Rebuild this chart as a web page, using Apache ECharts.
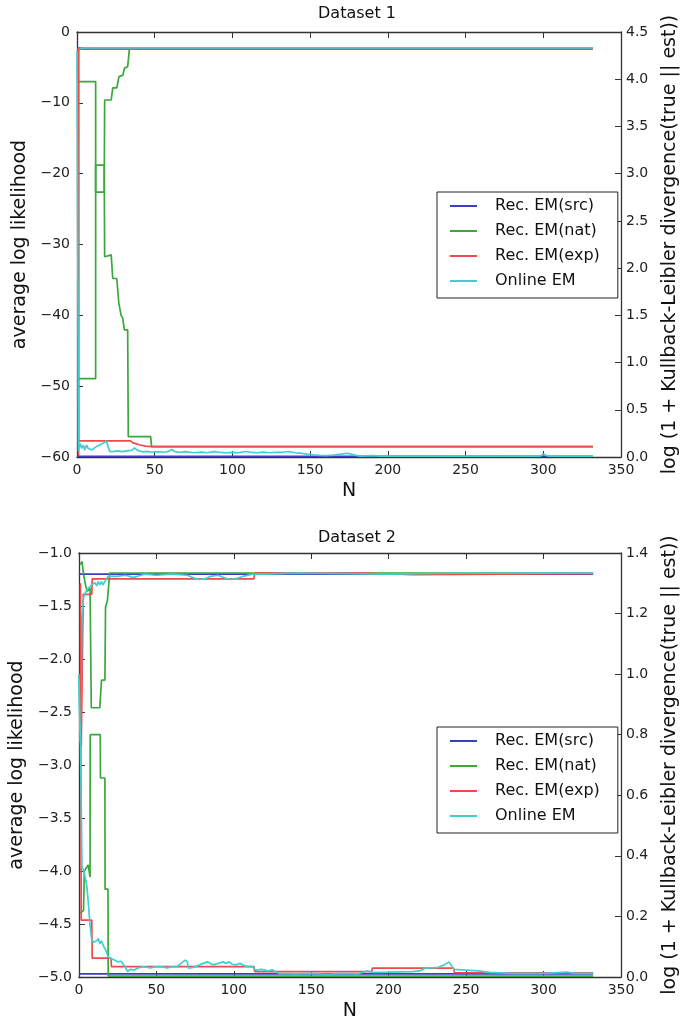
<!DOCTYPE html>
<html>
<head>
<meta charset="utf-8">
<script src="https://cdn.jsdelivr.net/npm/echarts@6/dist/echarts.min.js"></script>
<style>
html,body{margin:0;padding:0;background:#fff;}
#chart{width:688px;height:1026px;}
</style>
</head>
<body>
<div id="chart"></div>
<script>
// ---------- data ----------
const methods = ['Rec. EM(src)', 'Rec. EM(nat)', 'Rec. EM(exp)', 'Online EM'];
const titles = ['Dataset 1', 'Dataset 2'];

// Dataset 1 : average log likelihood (left axis), [N, value]
const d1SrcLL = [[0, -2.25], [332, -2.25]];
const d1NatLL = [[1, -7.0], [12, -7.0], [12, -22.6], [17.5, -22.6], [17.8, -9.6], [22, -9.6], [23, -7.9], [25.6, -7.9], [26.2, -7.2], [27, -6.3], [29.5, -6.1], [30.5, -5.1], [32.6, -4.9], [33.7, -2.42], [48, -2.42], [332, -2.42]];
const d1ExpLL = [[1, -60], [1, -2.42], [332, -2.42]];
const d1OnlLL = [[0, -5.3], [1, -2.3], [5, -2.25], [332, -2.25]];
// Dataset 1 : log(1 + KL) (right axis)
const d1SrcKL = [[0, 0.008], [332, 0.008]];
const d1NatKL = [[1, 0.83], [12, 0.83], [12, 3.09], [17.5, 3.09], [17.8, 2.12], [22, 2.14], [23, 1.89], [25.6, 1.89], [26.9, 1.63], [28.4, 1.50], [29.4, 1.47], [30.5, 1.345], [32.6, 1.345], [33, 0.215], [47.4, 0.215], [48, 0.11], [332, 0.11]];
const d1ExpKL = [[1, 4.33], [1, 0.17], [34.5, 0.17], [36, 0.15], [40, 0.13], [44, 0.115], [48, 0.11], [332, 0.11]];
const d1OnlKL = [[0, 4.3], [1, 0.06], [1.9, 0.145], [3, 0.092], [4, 0.127], [5, 0.074], [6.1, 0.127], [7.2, 0.092], [8.3, 0.11], [9.4, 0.074], [10.4, 0.092], [12.5, 0.11], [14.6, 0.127], [16.7, 0.145], [18.9, 0.17], [20, 0.11], [21, 0.06], [23, 0.056], [26, 0.065], [29, 0.056], [32, 0.065], [35, 0.07], [37, 0.095], [39, 0.07], [42, 0.055], [45, 0.06], [48, 0.05], [52, 0.056], [56, 0.05], [59, 0.06], [61, 0.08], [63, 0.056], [66, 0.05], [70, 0.056], [75, 0.045], [80, 0.052], [84, 0.045], [88, 0.056], [92, 0.05], [96, 0.045], [100, 0.05], [104, 0.045], [108, 0.058], [112, 0.05], [116, 0.045], [120, 0.052], [124, 0.045], [128, 0.05], [132, 0.05], [136, 0.058], [140, 0.045], [144, 0.04], [148, 0.03], [152, 0.022], [156, 0.018], [160, 0.015], [165, 0.02], [170, 0.03], [174, 0.04], [178, 0.022], [182, 0.01], [190, 0.015], [195, 0.01], [220, 0.012], [250, 0.01], [280, 0.012], [298, 0.01], [300, 0.028], [303, 0.01], [332, 0.01]];

// Dataset 2 : average log likelihood (left axis)
const d2SrcLL = [[0, -1.2], [332, -1.2]];
const d2NatLL = [[0.8, -1.11], [2, -1.08], [3, -1.2], [4.5, -1.32], [5.5, -1.36], [7.2, -1.33], [8, -2.46], [13.5, -2.46], [14.6, -2.2], [16.8, -2.2], [17.2, -1.51], [18.4, -1.45], [19.9, -1.19], [332, -1.19]];
const d2ExpLL = [[1, -2.3], [1.5, -2.83], [2.5, -2.83], [2.8, -1.39], [8.3, -1.39], [8.6, -1.245], [113, -1.245], [113.5, -1.19], [184, -1.19], [184.5, -1.205], [216, -1.205], [216.5, -1.195], [332, -1.195]];
const d2OnlLL = [[0, -2.2], [1, -2.79], [2, -1.6], [3, -1.42], [4, -1.38], [5.5, -1.34], [7, -1.32], [8.3, -1.3], [9.5, -1.29], [10.4, -1.28], [11.5, -1.31], [12.5, -1.27], [13.5, -1.3], [14.6, -1.27], [15.6, -1.3], [16.7, -1.27], [17.7, -1.26], [18.8, -1.22], [20, -1.21], [25, -1.22], [30, -1.21], [35, -1.23], [38, -1.22], [42, -1.2], [50, -1.21], [60, -1.2], [70, -1.21], [75, -1.24], [78, -1.25], [82, -1.24], [85, -1.22], [90, -1.21], [95, -1.24], [98, -1.25], [102, -1.24], [106, -1.22], [112, -1.2], [120, -1.2], [140, -1.19], [200, -1.2], [240, -1.19], [332, -1.19]];
// Dataset 2 : log(1 + KL) (right axis)
const d2SrcKL = [[0, 0.01], [332, 0.01]];
const d2NatKL = [[0.8, 0.21], [3, 0.22], [3.5, 0.35], [6, 0.37], [7.2, 0.33], [7.3, 0.80], [13.8, 0.80], [13.9, 0.657], [16.8, 0.657], [16.9, 0.29], [18.8, 0.29], [18.9, 0.003], [332, 0.003]];
const d2ExpKL = [[1, 1.3], [1.5, 0.188], [8.3, 0.188], [8.6, 0.062], [20.8, 0.062], [21, 0.034], [113, 0.034], [113.5, 0.018], [189, 0.018], [189.5, 0.029], [242, 0.029], [242.5, 0.014], [332, 0.014]];
const d2OnlKL = [[0, 1.0], [1, 0.77], [2, 0.36], [3, 0.353], [4, 0.33], [5.1, 0.30], [6, 0.25], [7.2, 0.172], [8.3, 0.122], [9.5, 0.115], [10.4, 0.111], [11.5, 0.12], [12.5, 0.127], [13.5, 0.11], [14.6, 0.12], [15.6, 0.105], [16.7, 0.1], [17.7, 0.085], [18.8, 0.067], [21, 0.06], [23.1, 0.056], [25, 0.05], [27.3, 0.052], [29, 0.04], [31.6, 0.0175], [33, 0.025], [35.8, 0.023], [38, 0.03], [42.1, 0.034], [46, 0.03], [50, 0.034], [52.7, 0.034], [57, 0.03], [60, 0.034], [63.3, 0.034], [66, 0.045], [68.6, 0.056], [70, 0.05], [70.7, 0.029], [74, 0.032], [78, 0.04], [80.3, 0.045], [83, 0.05], [86.6, 0.04], [90, 0.045], [93, 0.05], [95.1, 0.045], [97, 0.05], [99, 0.042], [101.5, 0.04], [104, 0.045], [108, 0.035], [112, 0.034], [114, 0.023], [118, 0.025], [122, 0.02], [124.7, 0.024], [129, 0.012], [140, 0.01], [150, 0.012], [160, 0.009], [170, 0.012], [180, 0.01], [186, 0.02], [190, 0.015], [200, 0.016], [215, 0.018], [220, 0.02], [224, 0.03], [228, 0.03], [232, 0.032], [236, 0.04], [239, 0.05], [242, 0.025], [250, 0.023], [258, 0.02], [265, 0.015], [280, 0.012], [300, 0.012], [315, 0.016], [320, 0.012], [332, 0.012]];

// axis ranges
const xRange = {min: 0, max: 350, interval: 50};
const d1LeftRange = {min: -60, max: 0, interval: 10};
const d1RightRange = {min: 0, max: 4.5, interval: 0.5};
const d2LeftRange = {min: -5, max: -1, interval: 0.5};
const d2RightRange = {min: 0, max: 1.4, interval: 0.2};

// ---------- styling ----------
const colors = ['#3c3cc8', '#3aa83a', '#f04a4a', '#3fcfcf'];
const FONT = 'DejaVu Sans';
const axisColor = '#333';
const grids = [
  {left: 77, top: 32, width: 551, height: 425},
  {left: 77, top: 553, width: 551, height: 424}
];

function xAxes(gi) {
  const base = {
    type: 'value', gridIndex: gi, min: xRange.min, max: xRange.max, interval: xRange.interval,
    splitLine: {show: false},
    axisLine: {show: true, onZero: false, lineStyle: {color: axisColor, width: 1.3}},
    axisTick: {show: true, inside: true, length: 6, lineStyle: {color: axisColor, width: 1}}
  };
  return [
    Object.assign({}, base, {
      position: 'bottom', name: 'N', nameLocation: 'middle', nameGap: 25,
      nameTextStyle: {fontFamily: FONT, fontSize: 19, color: '#111'},
      axisLabel: {fontFamily: FONT, fontSize: 14, color: '#222', margin: 6}
    }),
    Object.assign({}, base, {position: 'top', axisLabel: {show: false}})
  ];
}
function fmtLeft(dec) {
  return v => {
    const s = dec ? Math.abs(v).toFixed(1) : String(Math.abs(Math.round(v)));
    return v < 0 ? '\u2212' + s : s;
  };
}
function yAxes(gi, lr, rr, dec) {
  const base = {
    type: 'value', gridIndex: gi, splitLine: {show: false},
    axisLine: {show: true, onZero: false, lineStyle: {color: axisColor, width: 1.3}},
    axisTick: {show: true, inside: true, length: 6, lineStyle: {color: axisColor, width: 1}},
    nameLocation: 'middle', nameRotate: 90,
    nameTextStyle: {fontFamily: FONT, fontSize: 19, color: '#111'}
  };
  return [
    Object.assign({}, base, {
      position: 'left', min: lr.min, max: lr.max, interval: lr.interval,
      name: 'average log likelihood', nameGap: 47,
      axisLabel: {fontFamily: FONT, fontSize: 14, color: '#222', margin: 7, formatter: fmtLeft(dec)}
    }),
    Object.assign({}, base, {
      position: 'right', min: rr.min, max: rr.max, interval: rr.interval,
      name: 'log (1 + Kullback-Leibler divergence(true || est))', nameGap: 40,
      axisLabel: {fontFamily: FONT, fontSize: 14, color: '#222', margin: 5,
        formatter: v => Number(v).toFixed(1)}
    })
  ];
}

const sets = [
  {ll: [d1SrcLL, d1NatLL, d1ExpLL, d1OnlLL], kl: [d1SrcKL, d1NatKL, d1ExpKL, d1OnlKL]},
  {ll: [d2SrcLL, d2NatLL, d2ExpLL, d2OnlLL], kl: [d2SrcKL, d2NatKL, d2ExpKL, d2OnlKL]}
];
const series = [];
sets.forEach((s, gi) => {
  s.ll.forEach((data, i) => series.push({
    type: 'line', name: methods[i], xAxisIndex: gi * 2, yAxisIndex: gi * 2, data: data,
    showSymbol: false, symbol: 'none', color: colors[i], clip: true,
    lineStyle: {width: 1.7, color: colors[i]}, z: 2 + i
  }));
  s.kl.forEach((data, i) => series.push({
    type: 'line', name: methods[i], xAxisIndex: gi * 2, yAxisIndex: gi * 2 + 1, data: data,
    showSymbol: false, symbol: 'none', color: colors[i], clip: true,
    lineStyle: {width: 1.7, color: colors[i]}, z: 6 + i
  }));
});

function legendAt(top) {
  return {
    orient: 'vertical', left: 437, top: top, data: methods,
    icon: 'rect', itemWidth: 27, itemHeight: 2, itemGap: 5,
    borderColor: '#222', borderWidth: 1, backgroundColor: '#fff',
    padding: [4, 18, 7, 13],
    textStyle: {fontFamily: FONT, fontSize: 16, color: '#111', lineHeight: 20, padding: [0, 0, 0, 13]},
    selectedMode: false
  };
}

const option = {
  animation: false,
  backgroundColor: '#fff',
  title: titles.map((t, i) => ({
    text: t, left: 352, top: i === 0 ? 1 : 525, textAlign: 'center',
    textStyle: {fontFamily: FONT, fontSize: 16, fontWeight: 'normal', color: '#111'}
  })),
  legend: [legendAt(192), legendAt(727)],
  grid: grids,
  xAxis: xAxes(0).concat(xAxes(1).map(a => Object.assign(a, {gridIndex: 1}))),
  yAxis: yAxes(0, d1LeftRange, d1RightRange, false).concat(yAxes(1, d2LeftRange, d2RightRange, true)),
  series: series
};

const chart = echarts.init(document.getElementById('chart'), null, {renderer: 'canvas'});
chart.setOption(option);
</script>
</body>
</html>
